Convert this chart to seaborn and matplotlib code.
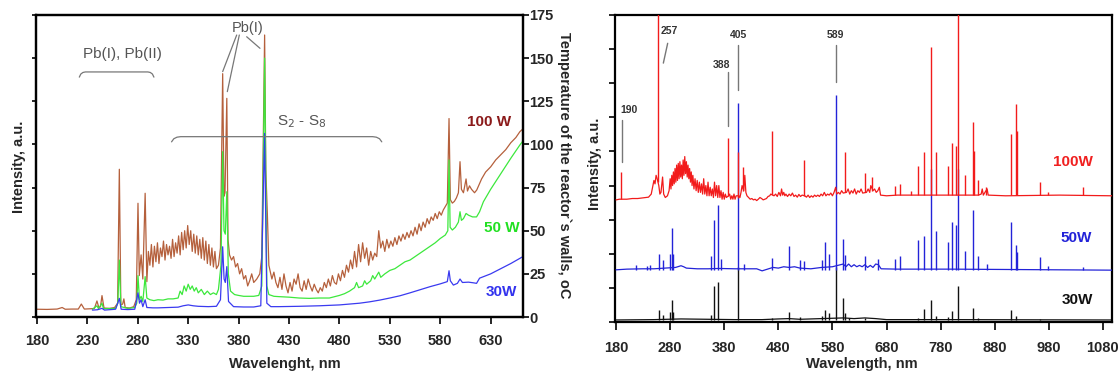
import matplotlib
matplotlib.use("Agg")
import matplotlib.pyplot as plt
import seaborn as sns
import pandas as pd

# ---------------- LEFT PANEL DATA (wavelength nm, intensity in temperature-axis units) -------------
left_100w = [(180,4.5),(190,4.4),(200,4.6),(205,5.5),(208,4.5),(215,4.6),(221,4.6),(224,7.5),(227,4.6),(234,4.8),(237,5.0),
 (239.5,9.3),(241.5,5.2),(243,6),(244.5,12.4),(246.5,5.2),(252,5.0),(257,5.5),(260,8),(261.7,85.6),(263.2,7),(265,7.5),
 (266.2,10.5),(267.5,5.5),(272,5.2),(276,6),(278.5,10),(280.2,65.9),(281.5,24),(283.3,36),(285,22),(287.3,71.7),(289,20.5),
 (290.5,38),(292,30),(293.5,42),(295,29),(296.5,41),(298,32),(299.5,43),(301,31),(302.5,40),(304,35),(305.5,44),(307,33),
 (308.5,42),(310,36),(311.5,41),(313,34),(314.5,45),(316,35),(317.5,43),(319,37),(320.5,47),(322,36),(323.5,49),(325,39),
 (326.5,50),(328,40),(329.5,53),(331,42),(332.5,50),(334,38),(335.5,48),(337,37),(338.5,47),(340,36),(341.5,45),(343,34),
 (344.5,46),(346,33),(347.5,44),(349,31),(350.5,42),(352,30),(353.5,40),(355,29),(356.5,38),(358,28),(360,30),(362,40),
 (364.2,141),(365.5,70),(366.5,72),(368.3,126.7),(369.5,45),(371,36),(373,33),(375,35),(377,29),(379,31),(381,25),(383,28),
 (385,22),(387,24),(389,18),(391,21),(393,25),(395,20),(398,22),(401,25),(403,35),(405.8,163.4),(407,85),(408.5,60),(410,30),
 (411.5,26),(413,22),(415,26),(417,20),(419,17),(421,23),(423,16),(425,25),(427,18),(429,14),(431,20),(433,15),(435,22),
 (437,19),(439,25),(441,17),(443,15),(445,21),(447,16),(449,22),(451,18),(453,15),(455,19),(457,16),(459,14),(461,17),
 (463,15),(465,20),(467,17),(469,22),(471,18),(473,24),(475,20),(477,19),(479,25),(481,21),(483,27),(485,23),(487,30),
 (489,26),(491,33),(493,28),(495,38),(497,29),(499,42),(501,32),(503,43),(505,34),(507,40),(509,30),(511,38),(513,33),
 (515,37),(517,35),(519,50),(521,40),(523,44),(525,38),(527,45),(529,40),(531,44),(533,41),(535,46),(537,42),(539,47),
 (541,44),(543,48),(545,45),(547,49),(549,46),(551,50),(553,47),(555,52),(557,48),(559,54),(561,50),(563,55),(565,52),
 (567,57),(569,54),(571,58),(573,56),(575,60),(577,57),(579,61),(581,59),(583,62),(585,64),(587,66),(588.7,115),(590,68),
 (592,66),(594,67),(596,69),(598,72),(599.6,90),(601,74),(603,72),(605.6,80),(607,73),(609,76),(611,74),(614,72),
 (616.2,73.6),(618,76),(621,80),(625,84),(630,87),(635,91),(640,94),(645,97),(650,101),(655,104),(659,107.4),(662,109)]

left_50w = [(235,4.5),(239.5,6.5),(241,4.8),(244.5,8),(246,4.8),(258,5),(260.2,8),(261.7,33),(263.2,6),(270,5),(277,5.5),
 (279,8),(280.2,24),(281.7,10),(283.3,12),(285,9),(287.3,23.4),(289,11),(292,10),(296,9.5),(300,10),(305,9.8),(310,10.5),
 (315,10.5),(320,11),(322,15),(324,13),(326,18),(328,15),(330,19),(332,16),(334,18),(336,15),(338,17),(340,14),(343,16),
 (346,13),(349,15),(352,13),(355,14),(358,13),(360,16),(362.5,30),(364.2,95.8),(365.5,50),(366.8,48),(368.3,72.6),
 (369.8,25),(372,15),(376,13),(380,12.5),(385,12),(390,12),(395,12),(400,12.5),(403,18),(405.8,150),(408,18),(410,13),
 (415,12),(420,11.8),(430,11.5),(440,11),(450,10.8),(460,11),(470,11),(480,12.5),(485,13.5),(490,15),(495,17),(497,20),
 (499,17),(503,18),(505,21),(507,19),(511,21),(513,24),(515,22),(519,26),(521,23),(525,25),(530,27),(535,28),(540,30),
 (545,32),(550,33),(555,35),(560,37),(565,39),(570,41),(575,43),(580,45.5),(585,47.5),(587.5,50),(588.7,91),(589.8,52),
 (592,50.4),(595,52),(598,55),(599.6,61),(601,56),(603,57),(605.6,60),(608,59),(612,58),(616,58),(619,61),(622.8,66.8),
 (630,74),(640,83),(650,92),(659,99.7),(662,102)]

left_30w = [(235,4),(240,4.2),(244.5,5),(247,4),(258,4.5),(261.7,10.8),(263.5,4.5),(270,4.3),(277,4.5),(280.2,14),
 (281.7,8),(283.3,10),(285,6),(287.3,10),(289,5.5),(295,5.3),(300,5.3),(310,5.5),(320,5.7),(325,6.5),(330,7),(335,6.5),
 (340,6.2),(350,6),(358,6.2),(362,10),(364.2,40.7),(365.6,22),(366.8,20),(368.3,29.2),(370,9),(375,6),(385,5.8),(395,5.8),
 (402,6.5),(405.8,106.4),(408,8),(412,6),(420,6),(440,6.2),(460,6.5),(480,7),(490,7.5),(500,8),(510,8.8),(520,9.8),
 (530,11),(540,12.3),(550,14),(560,15.8),(570,17.6),(580,19.2),(587,20.5),(588.7,26.8),(590,21),(593,18.5),(597,19.5),
 (599.6,22),(602,20),(608,20.2),(613,19.8),(616,19.5),(619,22.5),(630,25),(640,28),(650,31),(659,34),(662,35)]

left_xticks = [180, 230, 280, 330, 380, 430, 480, 530, 580, 630]
temp_ticks = [0, 25, 50, 75, 100, 125, 150, 175]

# ---------------- RIGHT PANEL DATA -------------
r100_base = [(180,3.58),(186,3.6),(192,3.6),(200,3.6),(210,3.62),(220,3.62),(230,3.64),(240,3.66),(245,3.75),(248,4.0),
 (250,4.15),(252,4.05),(254,4.3),(256,4.2),(259,4.0),(261,3.75),(263,3.8),(266,4.25),(268,3.75),(271,3.65),(275,3.7),
 (278,3.85),(280,4.2),(281.5,3.9),(283,4.3),(284.5,4.0),(286,4.4),(287.5,4.05),(289,4.5),(290.5,4.1),(292,4.6),(293.5,4.15),
 (295,4.65),(296.5,4.2),(298,4.7),(299.5,4.25),(301,4.6),(302.5,4.2),(304,4.75),(305.5,4.3),(307,4.85),(308.5,4.35),
 (310,4.7),(311.5,4.25),(313,4.6),(314.5,4.2),(316,4.5),(317.5,4.1),(319,4.4),(320.5,4.0),(322,4.3),(324,3.9),(326,4.2),
 (328,3.85),(330,4.15),(332,3.8),(334,4.1),(336,3.8),(338,4.05),(340,3.75),(342,4.2),(344,3.75),(346,4.0),(348,3.7),
 (350,4.1),(352,3.7),(354,3.95),(356,3.7),(358,3.9),(360,3.65),(362,4.1),(364,3.7),(366,4.0),(368,3.65),(370,4.0),
 (372,3.65),(374,3.85),(376,3.6),(378,3.8),(380,3.6),(382,3.75),(384,3.65),(388,3.7),(390,3.75),(392,3.6),(394,3.7),
 (396,3.6),(398,3.75),(400,3.6),(402,3.7),(407,3.7),(409,3.65),(411,3.8),(413,4.0),(416,3.85),(418,4.3),(420,3.8),
 (422,3.7),(425,3.65),(428,3.6),(431,3.62),(434,3.58),(437,3.6),(440,3.56),(443,3.6),(446,3.65),(449,3.62),(452,3.58),
 (455,3.6),(458,3.62),(461,3.68),(464,3.7),(466,3.75),(470,3.72),(472,3.7),(475,3.75),(478,3.68),(481,3.8),(484,3.7),
 (486,3.9),(488,3.72),(490,3.8),(492,3.7),(494,3.75),(497,3.68),(500,3.75),(503,3.7),(506,3.78),(509,3.68),(512,3.72),
 (515,3.66),(518,3.74),(521,3.68),(524,3.72),(529,3.7),(532,3.66),(535,3.72),(538,3.65),(541,3.7),(544,3.66),(547,3.72),
 (550,3.68),(553,3.72),(556,3.68),(559,3.75),(562,3.7),(565,3.8),(568,3.7),(571,3.75),(574,3.72),(577,3.78),(580,3.7),
 (583,3.8),(586,3.95),(588,3.75),(591,3.8),(594,3.75),(597,3.85),(600,3.78),(606,3.8),(609,3.9),(612,3.75),(615,3.85),
 (618,3.78),(621,3.9),(624,3.75),(627,3.85),(630,3.8),(633,3.9),(636,3.78),(643,3.8),(646,3.9),(649,3.8),(651,4.0),
 (655,3.85),(658,3.9),(661,3.8),(664,3.85),(666.7,3.95),(669,3.72),(680,3.7),(700,3.72),(750,3.72),(800,3.72),(850,3.72),
 (855,3.75),(857,3.9),(859,3.72),(862,3.8),(866,3.9),(868,3.72),(900,3.7),(1000,3.72),(1097,3.7)]
r100_lines = [(190,4.41,3.6),(257.5,11,4.1),(386.5,5.39,3.7),(405.5,4.98,3.65),(414.5,4.54,3.85),(468,5.61,3.72),
 (526.6,4.75,3.7),(603.7,4.98,3.8),(640.8,4.36,3.8),(653,4.26,3.85),(695.7,4.0,3.72),(705.5,4.05,3.72),(725.4,3.85,3.72),
 (737.8,4.56,3.72),(750,4.98,3.72),(762.5,8.07,3.72),(771.7,4.98,3.72),(793.3,4.56,3.72),(800.6,5.24,3.72),
 (808.2,5.15,3.72),(811.5,11,3.72),(824.5,4.3,3.72),(840,5.87,3.72),(842,5.0,3.72),(850,4.15,3.72),(864,3.95,3.72),
 (910,5.5,3.72),(919.8,6.38,3.72),(921.3,5.6,3.72),(964,4.1,3.72),(978,3.8,3.72),(1044,3.97,3.72)]

r50_base = [(180,1.53),(200,1.55),(230,1.56),(250,1.56),(270,1.58),(290,1.6),(300,1.65),(305,1.62),(310,1.58),(330,1.56),
 (350,1.56),(370,1.57),(400,1.56),(420,1.56),(440,1.56),(450,1.5),(460,1.55),(470,1.6),(480,1.58),(490,1.62),(500,1.6),
 (510,1.62),(520,1.58),(540,1.56),(560,1.6),(580,1.62),(600,1.7),(605,1.62),(610,1.7),(615,1.62),(620,1.68),(625,1.62),
 (630,1.66),(635,1.62),(640,1.68),(645,1.6),(650,1.66),(655,1.6),(660,1.7),(665,1.68),(670,1.56),(700,1.55),(800,1.55),
 (900,1.54),(1000,1.53),(1097,1.52)]
r50_lines = [(216.7,1.67),(237,1.65),(243,1.66),(260,1.98),(266,1.82),(279.6,1.98),(282.6,2.77),(285,1.98),(355.5,1.94),
 (361.7,2.99),(368,3.43),(374,1.86),(405.5,6.41),(417,1.7),(468,1.88),(499.7,2.24),(519.6,1.81),(527,1.78),(560,1.82),
 (566,2.34),(574,1.98),(587,6.66),(599.5,2.43),(603,1.95),(640.8,1.94),(664.5,1.84),(695.7,1.86),(705.5,1.94),
 (737.8,2.39),(750,2.53),(762.5,4.5),(771.7,2.67),(793.3,2.34),(800.6,2.92),(808.2,2.83),(811.5,4.5),(824.5,2.08),
 (840,3.28),(850,1.94),(866,1.7),(910,2.94),(919.8,2.26),(921.5,2.05),(964,1.9),(978,1.65),(1044,1.6)]

r30_base = [(180,0.06),(250,0.07),(300,0.09),(350,0.08),(400,0.07),(450,0.07),(480,0.09),(500,0.1),(520,0.08),(560,0.1),
 (600,0.12),(620,0.1),(640,0.12),(660,0.1),(680,0.07),(800,0.07),(1097,0.06)]
r30_lines = [(260,0.35),(266,0.2),(279.6,0.3),(282.6,0.65),(285,0.3),(355.5,0.2),(361.7,1.07),(368,1.18),(405.5,1.6),
 (468,0.12),(499.7,0.28),(519.6,0.15),(560,0.18),(566,0.36),(574,0.25),(587,1.6),(599.5,0.69),(603,0.25),(610,0.12),
 (640,0.12),(737.8,0.12),(750,0.38),(762.5,0.65),(771.7,0.18),(793.3,0.15),(800.6,0.31),(811.5,1.07),(840,0.4),
 (850,0.12),(910,0.36),(919.8,0.18),(964,0.1)]

right_xticks = [180, 280, 380, 480, 580, 680, 780, 880, 980, 1080]
right_yticks = list(range(0, 10))

# ---------------- STYLE ----------------
sns.set_theme(style="ticks")
plt.rcParams["font.family"] = ["Liberation Sans", "DejaVu Sans"]
plt.rcParams["axes.linewidth"] = 1.6

BROWN, GREEN, BLUE_L = "#B5603C", "#3CE83C", "#3A3AF0"
RED, BLUE_R, BLACK, GRAY = "#F21B1B", "#2323D8", "#111111", "#555555"

fig = plt.figure(figsize=(11.2, 3.74), dpi=100)
axL = fig.add_axes([0.0321, 0.1524, 0.4348, 0.8075])
axR = fig.add_axes([0.5491, 0.1390, 0.4438, 0.8209])


def df_of(pts):
    return pd.DataFrame(pts, columns=["wl", "val"])


def fx(px):
    return px / 1120.0


def fy(py):
    return 1.0 - py / 374.0


# ---- left panel ----
for pts, col, z in [(left_100w, BROWN, 2), (left_50w, GREEN, 3), (left_30w, BLUE_L, 4)]:
    d = df_of(pts)
    sns.lineplot(data=d, x="wl", y="val", ax=axL, color=col, lw=0.9, sort=False,
                 estimator=None, zorder=z)
axL.set_xlim(179, 662)
axL.set_ylim(0, 175)
axL.set_xticks(left_xticks)
axL.set_yticks(temp_ticks)
axL.tick_params(axis="y", left=True, labelleft=False, length=3, width=1.4, direction="out")
axL.tick_params(axis="x", length=5, width=1.4, direction="out", pad=7, labelsize=10.5)
for t in axL.get_xticklabels():
    t.set_fontweight("bold")
axL.set_xlabel("")
axL.set_ylabel("")

axT = axL.twinx()
axT.set_ylim(0, 175)
axT.set_yticks(temp_ticks)
axT.tick_params(axis="y", length=4, width=1.4, direction="out", pad=0.5, labelsize=10.5)
for t in axT.get_yticklabels():
    t.set_fontweight("bold")
for a in (axL, axT):
    for s in a.spines.values():
        s.set_linewidth(1.6)
        s.set_color("black")

fig.text(fx(285), fy(364), "Wavelenght, nm", ha="center", va="center", fontsize=10.5, fontweight="bold")
fig.text(fx(19), fy(167), "Intensity, a.u.", ha="center", va="center", rotation=90, fontsize=10.5, fontweight="bold")
fig.text(fx(564), fy(165), "Temperature of the reactor`s walls, oC", ha="center", va="center", rotation=270,
         fontsize=10.5, fontweight="bold")


def bracket(ax, x0, x1, ytop, ylow, dx):
    xs = [x0, x0 + dx * 0.25, x0 + dx * 0.6, x0 + dx, x1 - dx, x1 - dx * 0.6, x1 - dx * 0.25, x1]
    dy = ytop - ylow
    ys = [ylow, ylow + dy * 0.6, ylow + dy * 0.9, ytop, ytop, ylow + dy * 0.9, ylow + dy * 0.6, ylow]
    ax.plot(xs, ys, color="#777777", lw=0.9, zorder=5)


bracket(axL, 222, 296, 142, 139, 6)
bracket(axL, 313.5, 522, 104.5, 101.5, 9)
axL.text(265, 152.4, "Pb(I), Pb(II)", ha="center", va="center", fontsize=11, color=GRAY)
axL.text(388.8, 167.3, "Pb(I)", ha="center", va="center", fontsize=10.5, color=GRAY)
axL.text(442.6, 113.2, "S$_2$ - S$_8$", ha="center", va="center", fontsize=11, color=GRAY)
for (xa, ya, xb, yb) in [(378.1, 163.4, 364.2, 142.2), (380.7, 163.4, 368.8, 130.6), (388.0, 162.4, 401.2, 155.7)]:
    axL.plot([xa, xb], [ya, yb], color="#777777", lw=0.9, zorder=5)
axL.text(628.4, 113.2, "100 W", ha="center", va="center", fontsize=11, fontweight="bold", color="#8B1A1A")
axL.text(641, 51.4, "50 W", ha="center", va="center", fontsize=11, fontweight="bold", color="#22E022", zorder=6)
axL.text(641, 14.7, "30W", ha="center", va="center", fontsize=11, fontweight="bold", color="#3333EE")

# ---- right panel ----
for base, lines, col, z in [(r30_base, r30_lines, BLACK, 2), (r50_base, r50_lines, BLUE_R, 3), (r100_base, r100_lines, RED, 4)]:
    d = df_of(base)
    sns.lineplot(data=d, x="wl", y="val", ax=axR, color=col, lw=0.9, sort=False, estimator=None, zorder=z)
    lw_ = [p[0] for p in lines]
    top_ = [p[1] for p in lines]
    if len(lines[0]) == 3:
        bot_ = [p[2] for p in lines]
    else:
        bot_ = [base[0][1]] * len(lines)
    axR.vlines(lw_, bot_, top_, colors=col, lw=1.0, zorder=z)
axR.set_xlim(178, 1097)
axR.set_ylim(0, 9)
axR.set_xticks(right_xticks)
axR.set_yticks(right_yticks)
axR.tick_params(axis="y", labelleft=False, length=4, width=1.4, direction="out")
axR.tick_params(axis="x", length=6, width=1.4, direction="out", pad=8, labelsize=10.5)
for t in axR.get_xticklabels():
    t.set_fontweight("bold")
axR.set_xlabel("")
axR.set_ylabel("")
for s in axR.spines.values():
    s.set_linewidth(1.6)
    s.set_color("black")

fig.text(fx(862), fy(364), "Wavelength, nm", ha="center", va="center", fontsize=10.5, fontweight="bold")
fig.text(fx(595), fy(164), "Intensity, a.u.", ha="center", va="center", rotation=90, fontsize=10.5, fontweight="bold")

for (lab, tx, ty, ha, seg) in [("190", 188, 6.22, "left", (191, 5.92, 191, 4.70)),
                               ("257", 279, 8.54, "center", (275.4, 8.17, 267.4, 7.59)),
                               ("388", 374.8, 7.54, "center", (386.5, 7.34, 386.5, 5.75)),
                               ("405", 407.2, 8.40, "center", (406, 8.12, 406, 6.80)),
                               ("589", 585.6, 8.40, "center", (587.5, 8.12, 587.5, 7.05))]:
    axR.text(tx, ty, lab, ha=ha, va="center", fontsize=7.5, fontweight="bold", color="#333333")
    axR.plot([seg[0], seg[2]], [seg[1], seg[3]], color="#777777", lw=1.0, zorder=5)

axR.text(1024.8, 4.70, "100W", ha="center", va="center", fontsize=11, fontweight="bold", color="#F02020")
axR.text(1030, 2.47, "50W", ha="center", va="center", fontsize=11, fontweight="bold", color="#2323D8")
axR.text(1032.8, 0.65, "30W", ha="center", va="center", fontsize=11, fontweight="bold", color="#111111")

fig.savefig("out.png", dpi=100)
